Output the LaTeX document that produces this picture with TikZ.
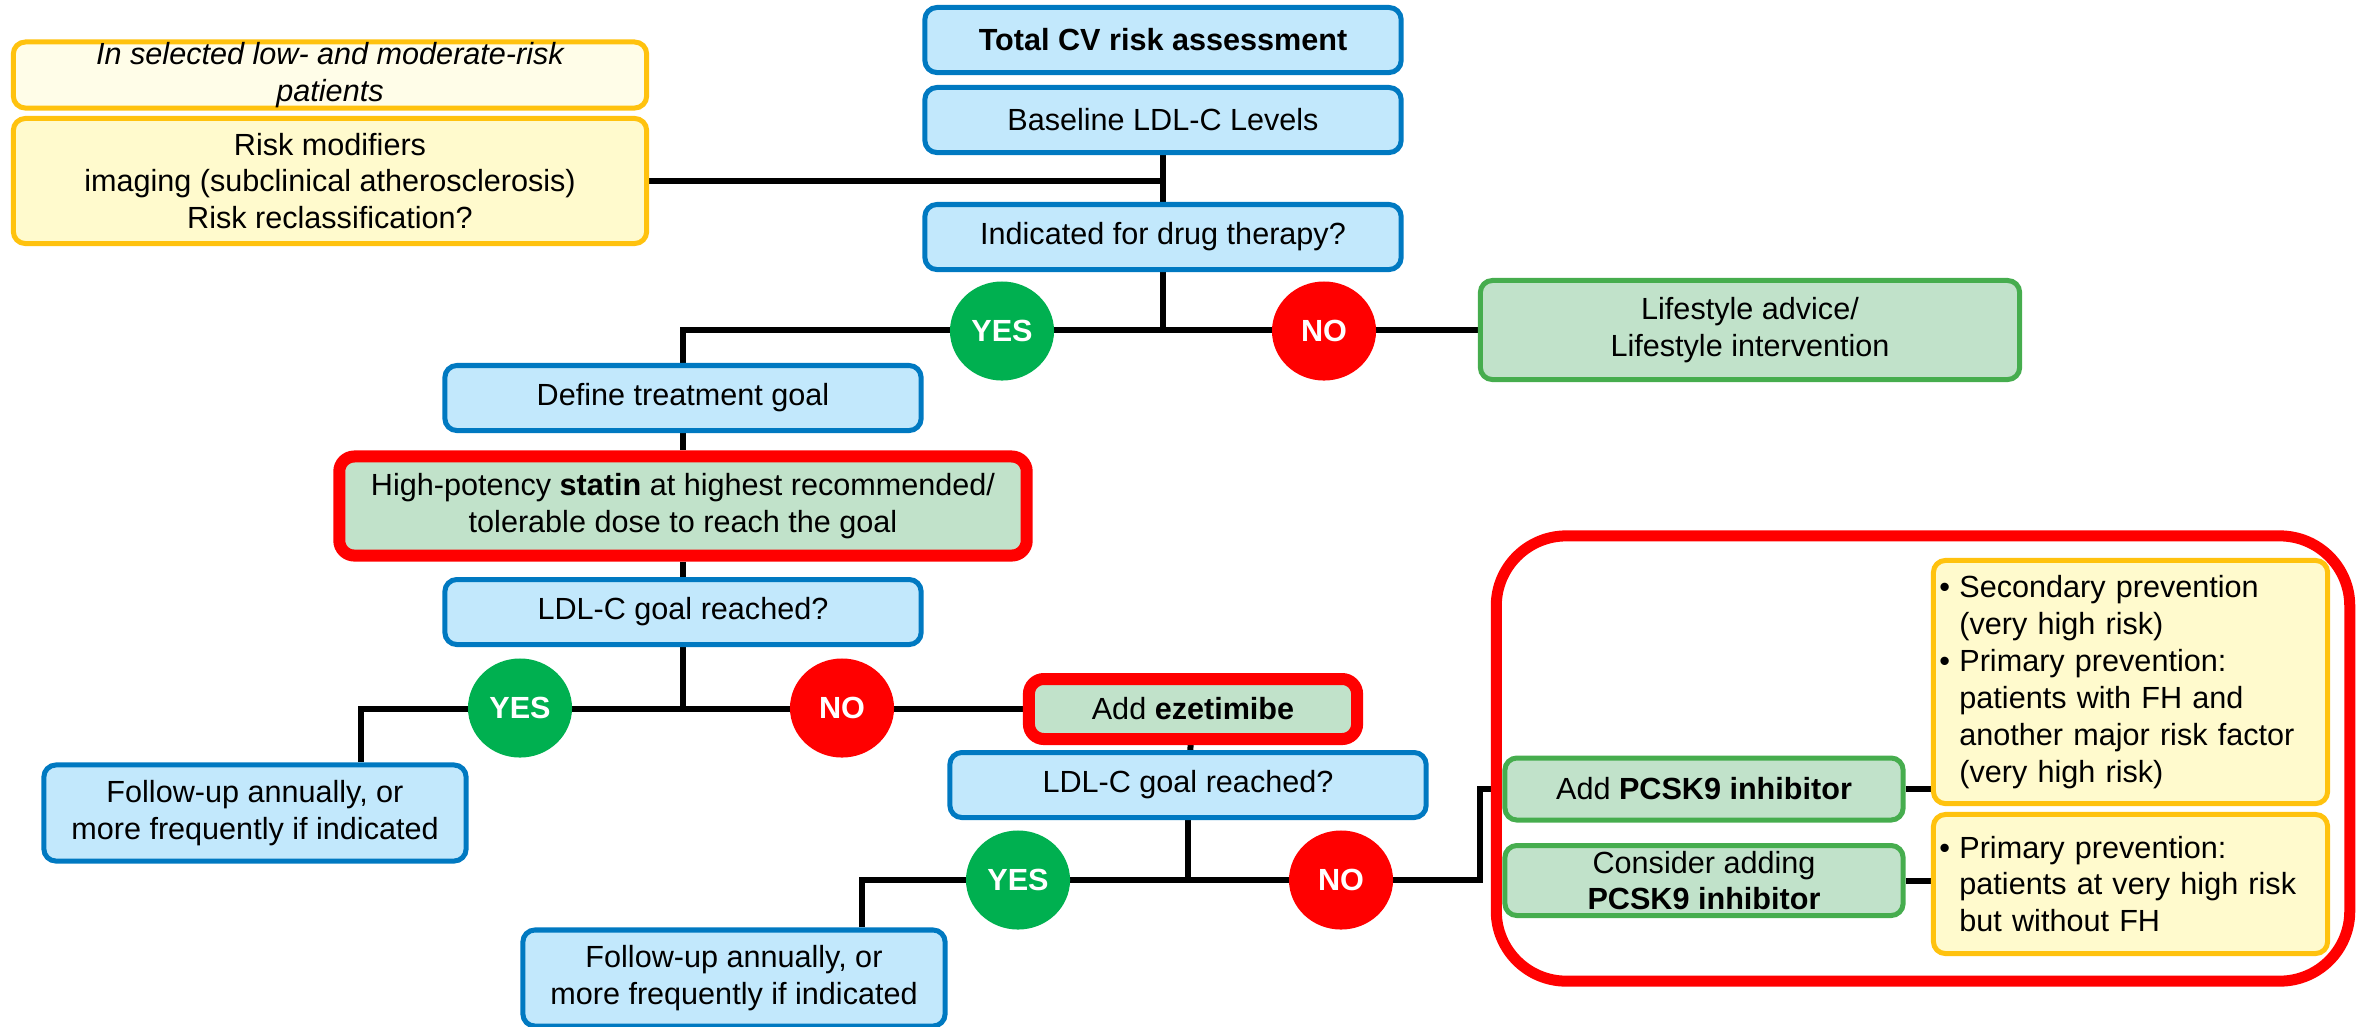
\documentclass[tikz,border=0pt]{standalone}
\usepackage{fontspec}
\setmainfont{Liberation Sans}
\usetikzlibrary{shapes.geometric,backgrounds}

\definecolor{blueline}{HTML}{0079C1}
\definecolor{bluefill}{HTML}{C2E8FC}
\definecolor{greenline}{HTML}{46AD4E}
\definecolor{greenfill}{HTML}{C1E2CA}
\definecolor{goldline}{HTML}{FFC20E}
\definecolor{yelfill}{HTML}{FFFACD}
\definecolor{palefill}{HTML}{FFFDE8}
\definecolor{yesgreen}{HTML}{00B050}

\newcommand{\figfont}{\fontsize{8.7}{10.5}\selectfont}
\newcommand{\bulmark}{\makebox[0.2cm][l]{\textbullet}}
\newcommand{\bulskip}{\hspace*{0.2cm}}

\begin{document}
\begin{tikzpicture}[x=0.01cm,y=-0.01cm,
  every node/.style={font=\figfont, inner xsep=0.06cm, inner ysep=0.02cm},
  bluebox/.style={draw=blueline, fill=bluefill, line width=0.05cm, rounded corners=0.12cm,
    minimum width=4.76cm, minimum height=0.65cm, align=center},
  greenbox/.style={draw=greenline, fill=greenfill, line width=0.05cm, rounded corners=0.12cm,
    minimum width=3.98cm, align=center},
  redbox/.style={draw=red, fill=greenfill, line width=0.12cm, rounded corners=0.15cm, align=center},
  yelbox/.style={draw=goldline, fill=yelfill, line width=0.05cm, rounded corners=0.12cm},
  yesdot/.style={ellipse, fill=yesgreen, text=white, font=\figfont\bfseries,
    minimum width=1.04cm, minimum height=0.99cm, inner sep=0pt},
  nodot/.style={yesdot, fill=red},
  link/.style={line width=0.06cm}]
\useasboundingbox (0,0) rectangle (2364,1026);

% main column
\node[bluebox] (total) at (1163,40) {\textbf{Total CV risk assessment}};
\node[bluebox] (baseline) at (1163,120) {Baseline LDL-C Levels};
\node[bluebox] (indicated) at (1163,237) {Indicated for drug therapy?};

% risk modifiers
\node[yelbox, fill=palefill, minimum width=6.33cm, minimum height=0.66cm, inner ysep=0pt,
  align=center, font=\figfont\itshape] (selected) at (330,75)
  {In selected low- and moderate-risk\\patients};
\node[yelbox, minimum width=6.33cm, minimum height=1.25cm, align=center] (modifiers) at (330,181)
  {Risk modifiers\\imaging (subclinical atherosclerosis)\\Risk reclassification?};

% first decision
\node[greenbox, minimum width=5.39cm, minimum height=0.99cm] (lifestyle) at (1750,330)
  {Lifestyle advice/\\Lifestyle intervention};
\node[bluebox] (treatgoal) at (683,398) {Define treatment goal};
\node[redbox, minimum width=6.87cm, minimum height=0.99cm] (statin) at (683,506)
  {High-potency \textbf{statin} at highest recommended/\\tolerable dose to reach the goal};
\node[bluebox] (goalone) at (683,612) {LDL-C goal reached?};

% second decision
\node[bluebox, minimum width=4.22cm, minimum height=0.96cm] (followone) at (255,813)
  {Follow-up annually, or\\more frequently if indicated};
\node[redbox, minimum width=3.28cm, minimum height=0.60cm] (ezetimibe) at (1193,709)
  {Add \textbf{ezetimibe}};
\node[bluebox] (goaltwo) at (1188,785) {LDL-C goal reached?};

% third decision
\node[bluebox, minimum width=4.22cm, minimum height=0.96cm] (followtwo) at (734,978)
  {Follow-up annually, or\\more frequently if indicated};
\node[greenbox, minimum height=0.62cm] (addpcsk) at (1704,789) {Add \textbf{PCSK9 inhibitor}};
\node[greenbox, minimum height=0.70cm] (consider) at (1704,880.5)
  {Consider adding\\\textbf{PCSK9 inhibitor}};
\node[yelbox, minimum width=3.94cm, minimum height=2.43cm, text width=3.82cm, align=left]
  (primone) at (2130.5,682)
  {\bulmark Secondary prevention\\\bulskip(very high risk)\\\bulmark Primary prevention:\\
   \bulskip patients with FH and\\\bulskip another major risk factor\\\bulskip(very high risk)};
\node[yelbox, minimum width=3.94cm, minimum height=1.39cm, text width=3.82cm, align=left]
  (primtwo) at (2130.5,884)
  {\bulmark Primary prevention:\\\bulskip patients at very high risk\\\bulskip but without FH};

\coordinate (splitone) at (361,708);
\coordinate (splittwo) at (862,880);
\coordinate (jointhree) at (1480,880);

% yes / no marks
\node[yesdot] (yesone) at (1002,331) {YES};
\node[nodot] (noone) at (1324,331) {NO};
\node[yesdot] (yestwo) at (520,708) {YES};
\node[nodot] (notwo) at (842,708) {NO};
\node[yesdot] (yesthree) at (1018,880) {YES};
\node[nodot] (nothree) at (1341,880) {NO};

% connectors
\begin{scope}[on background layer]
\draw[link] (baseline) -- (indicated);
\draw[link] (modifiers.east) -- (modifiers.east -| baseline.south);
\draw[link] (indicated.south) -- (indicated.south |- lifestyle.west);
\draw[link] (treatgoal.north) |- (lifestyle.west);
\draw[link] (treatgoal) -- (statin);
\draw[link] (statin) -- (goalone);
\draw[link] (goalone.south) -- (goalone.south |- ezetimibe.west);
\draw[link] (followone.north -| splitone) |- (ezetimibe.west);
\draw[link] (ezetimibe) -- (goaltwo);
\draw[link] (goaltwo.south) -- (goaltwo.south |- splittwo);
\draw[link] (followtwo.north -| splittwo) |- (jointhree) |- (addpcsk.west);
\draw[link] (addpcsk.east) -- (addpcsk.east -| primone.west);
\draw[link] (consider.east) -- (consider.east -| primtwo.west);
\end{scope}

% frame round the PCSK9 options
\node[draw=red, line width=0.11cm, rounded corners=0.7cm, minimum width=8.53cm,
  minimum height=4.45cm] (pcskframe) at (1923,758.5) {};
\end{tikzpicture}
\end{document}
